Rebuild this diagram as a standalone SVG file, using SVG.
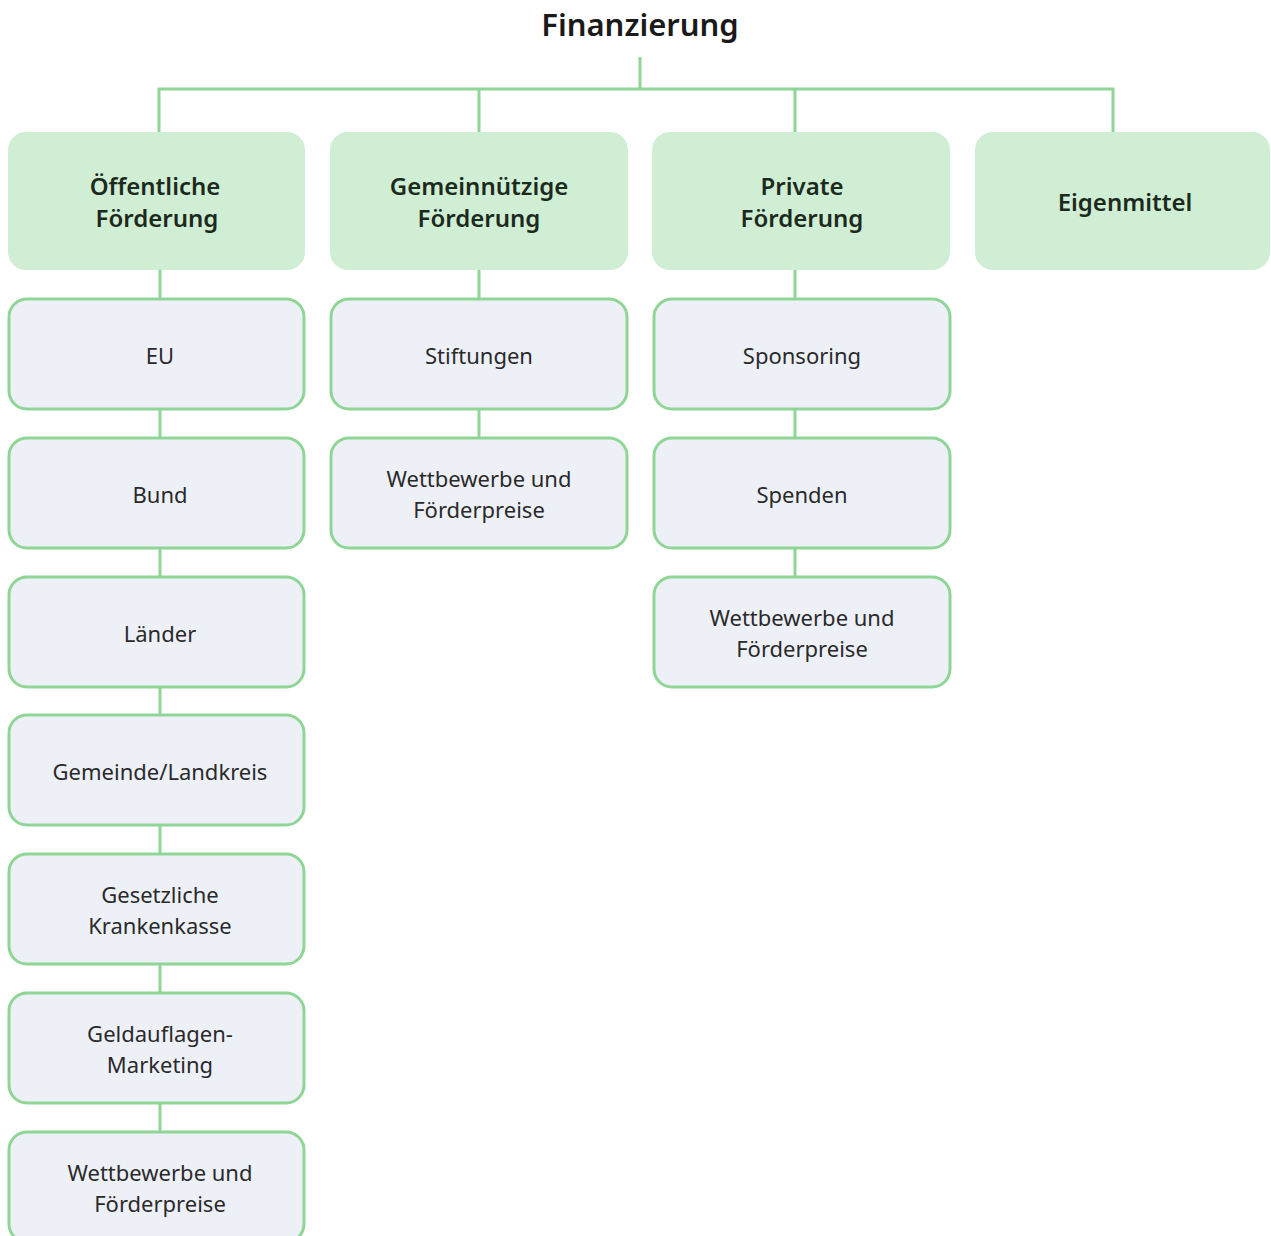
<svg xmlns="http://www.w3.org/2000/svg" width="1271" height="1236" viewBox="0 0 1271 1236">
<style>
.hdr{fill:#d0eed3;}
.box{fill:#eef0f8;stroke:#8fd595;stroke-width:3;}
.ln{stroke:#8fd595;stroke-width:3;fill:none;}
.ht{font-family:"Noto Sans","Open Sans",sans-serif;font-size:24px;font-weight:600;fill:#1c2a1e;text-anchor:middle;}
.ct{font-family:"Noto Sans","Open Sans",sans-serif;font-size:22px;fill:#2a2a2a;text-anchor:middle;}
.tt{font-family:"Noto Sans","Open Sans",sans-serif;font-size:31px;font-weight:600;fill:#1a1a1a;text-anchor:middle;}
</style>
<rect width="1271" height="1236" fill="#ffffff"/>
<text class="tt" x="640" y="36">Finanzierung</text>
<g id="connectors">
<path class="ln" d="M640 57V89M159 132V89H1113V132M479 89V132M795 89V132"/>
<path class="ln" d="M160 270V298M160 410V437M160 548V576M160 687V715M160 825V853M160 964V992M160 1103V1131"/>
<path class="ln" d="M479 270V298M479 410V437"/>
<path class="ln" d="M795 270V298M795 410V437M795 548V576"/>
</g>
<g id="h1"><rect class="hdr" x="8" y="132" width="297" height="138" rx="18"/><text class="ht" x="155" y="195">Öffentliche</text><text class="ht" x="157" y="227">Förderung</text></g>
<g id="h2"><rect class="hdr" x="330" y="132" width="298" height="138" rx="18"/><text class="ht" x="479" y="195">Gemeinnützige</text><text class="ht" x="479" y="227">Förderung</text></g>
<g id="h3"><rect class="hdr" x="652" y="132" width="298" height="138" rx="18"/><text class="ht" x="802" y="195">Private</text><text class="ht" x="802" y="227">Förderung</text></g>
<g id="h4"><rect class="hdr" x="975" y="132" width="295" height="138" rx="18"/><text class="ht" x="1125" y="211">Eigenmittel</text></g>
<g id="c1a"><rect class="box" x="9" y="299" width="295" height="110" rx="18"/><text class="ct" x="160" y="364">EU</text></g>
<g id="c1b"><rect class="box" x="9" y="438" width="295" height="110" rx="18"/><text class="ct" x="160" y="503">Bund</text></g>
<g id="c1c"><rect class="box" x="9" y="577" width="295" height="110" rx="18"/><text class="ct" x="160" y="642">Länder</text></g>
<g id="c1d"><rect class="box" x="9" y="715" width="295" height="110" rx="18"/><text class="ct" x="160" y="780">Gemeinde/Landkreis</text></g>
<g id="c1e"><rect class="box" x="9" y="854" width="295" height="110" rx="18"/><text class="ct" x="160" y="903">Gesetzliche</text><text class="ct" x="160" y="934">Krankenkasse</text></g>
<g id="c1f"><rect class="box" x="9" y="993" width="295" height="110" rx="18"/><text class="ct" x="160" y="1042">Geldauflagen-</text><text class="ct" x="160" y="1073">Marketing</text></g>
<g id="c1g"><rect class="box" x="9" y="1132" width="295" height="110" rx="18"/><text class="ct" x="160" y="1181">Wettbewerbe und</text><text class="ct" x="160" y="1212">Förderpreise</text></g>
<g id="c2a"><rect class="box" x="331" y="299" width="296" height="110" rx="18"/><text class="ct" x="479" y="364">Stiftungen</text></g>
<g id="c2b"><rect class="box" x="331" y="438" width="296" height="110" rx="18"/><text class="ct" x="479" y="487">Wettbewerbe und</text><text class="ct" x="479" y="518">Förderpreise</text></g>
<g id="c3a"><rect class="box" x="654" y="299" width="296" height="110" rx="18"/><text class="ct" x="802" y="364">Sponsoring</text></g>
<g id="c3b"><rect class="box" x="654" y="438" width="296" height="110" rx="18"/><text class="ct" x="802" y="503">Spenden</text></g>
<g id="c3c"><rect class="box" x="654" y="577" width="296" height="110" rx="18"/><text class="ct" x="802" y="626">Wettbewerbe und</text><text class="ct" x="802" y="657">Förderpreise</text></g>
</svg>
